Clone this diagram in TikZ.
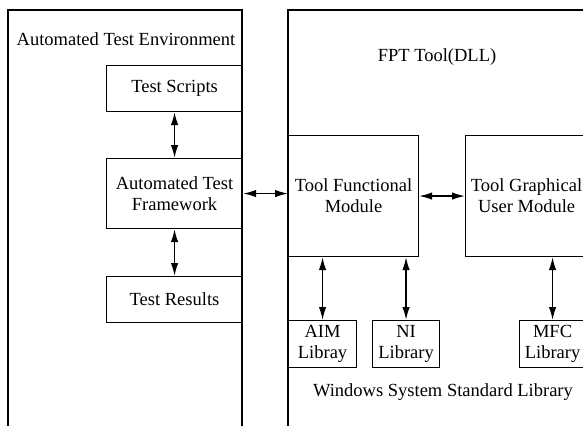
\documentclass[tikz,border=0pt]{standalone}
\usepackage{fontspec}
\setmainfont{Liberation Serif}
\usetikzlibrary{arrows.meta,positioning}

\tikzset{
  blk/.style={draw,line width=1.1pt,align=center,inner sep=0pt,anchor=north west},
  link/.style={{Latex[length=13pt,width=7.5pt]}-{Latex[length=13pt,width=7.5pt]},line width=1.5pt},
}

\begin{document}
\begin{tikzpicture}[x=1pt,y=-1pt,font=\fontsize{18.5}{21}\selectfont]
		\useasboundingbox (0,0) rectangle (583,426);
		% outer frames
		\draw[line width=1.1pt] (8,426) -- (8,10) -- (242,10) -- (242,426);
		\draw[line width=1.1pt] (288,426) -- (288,10) -- (590,10);
		\node (env) at (126,39) {Automated Test Environment};
		\node (fpt) at (437,57) {FPT Tool(DLL)};
		% left column
		\node[blk,minimum width=136pt,minimum height=46pt] (scripts) at (106,65) {Test Scripts};
		\node[blk,minimum width=136pt,minimum height=70pt] (frame) at (106,158) {Automated Test\\Framework};
		\node[blk,minimum width=136pt,minimum height=46pt] (results) at (106,276) {Test Results};
		% tool modules
		\node[blk,minimum width=130pt,minimum height=121pt] (func) at (288,135) {Tool Functional\\Module};
		\node[blk,minimum width=122pt,minimum height=121pt] (gui) at (465,135) {Tool Graphical\\User Module};
		% libraries
		\node[blk,minimum width=68pt,minimum height=47pt] (aim) at (288,320) {AIM\\Libray};
		\node[blk,minimum width=67pt,minimum height=47pt] (ni) at (372,320) {NI\\Library};
		\node[blk,minimum width=66pt,minimum height=47pt] (mfc) at (519,320) {MFC\\Library};
		\node (win) at (443,392) {Windows System Standard Library};
		% connectors
		\draw[link] (scripts) -- (frame);
		\draw[link] (frame) -- (results);
		\draw[link] (frame.east) -- (frame.east -| func.west);
		\draw[link] (func.east) -- (func.east -| gui.west);
		\draw[link] (aim.north) -- (aim.north |- func.south);
		\draw[link] (ni.north) -- (ni.north |- func.south);
		\draw[link] (mfc.north) -- (mfc.north |- gui.south);
	\end{tikzpicture}
\end{document}
